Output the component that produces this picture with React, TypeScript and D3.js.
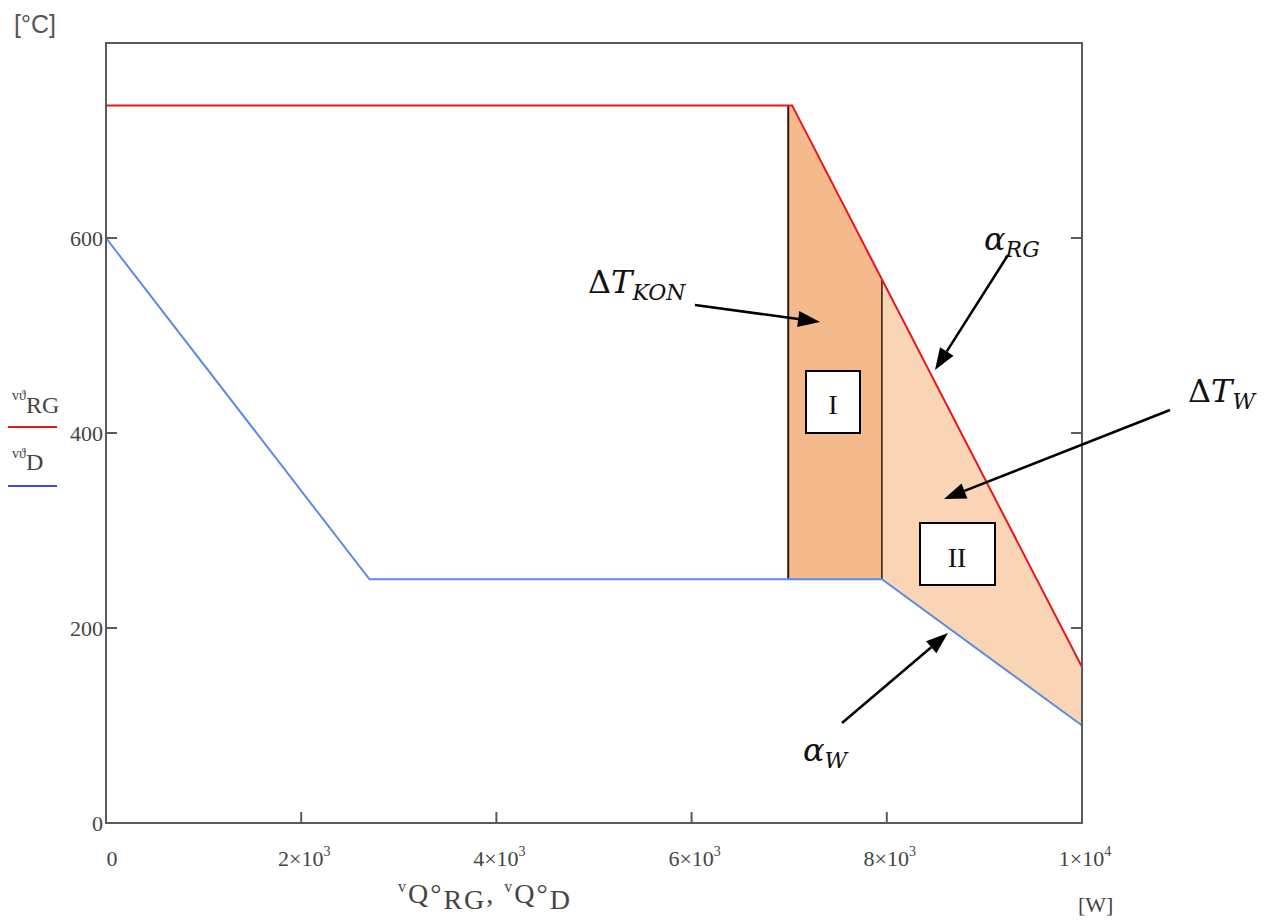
import React from "react";
import * as d3 from "d3";

// ---- data ----
const xTickValues = [0, 2000, 4000, 6000, 8000, 10000];
const xTickMantissa = ["0", "2×10", "4×10", "6×10", "8×10", "1×10"];
const xTickExponent = ["", "3", "3", "3", "3", "4"];
const yTickValues = [0, 200, 400, 600];
const yTickLabels = ["0", "200", "400", "600"];

const rgX = [0, 7030, 10000];
const rgY = [736, 736, 160];
const dX = [0, 2700, 7950, 10000];
const dY = [600, 250, 250, 100];

const region1 = [6990, 7950];
const region2 = [7950, 10000];

const W = 1270, H = 920;
const left = 106, right = 1082, top = 43, bottom = 823;

const x = d3.scaleLinear().domain([0, 10000]).range([left, right]);
const y = d3.scaleLinear().domain([0, 800]).range([bottom, top]);

function interp(xs: number[], ys: number[], v: number) {
  for (let i = 0; i < xs.length - 1; i++) {
    if (v >= xs[i] && v <= xs[i + 1]) {
      const t = (v - xs[i]) / (xs[i + 1] - xs[i]);
      return ys[i] + t * (ys[i + 1] - ys[i]);
    }
  }
  return ys[ys.length - 1];
}

function regionPoints(a: number, b: number): [number, number][] {
  const xsL = [a, ...dX.filter((v) => v > a && v < b), b];
  const lower: [number, number][] = xsL.map((v) => [v, interp(dX, dY, v)]);
  const xsU = [a, ...rgX.filter((v) => v > a && v < b), b].reverse();
  const upper: [number, number][] = xsU.map((v) => [v, interp(rgX, rgY, v)]);
  return [...lower, ...upper];
}

const line = d3
  .line<[number, number]>()
  .x((d) => x(d[0]))
  .y((d) => y(d[1]));

function Arrow({ x1, y1, x2, y2 }: { x1: number; y1: number; x2: number; y2: number }) {
  const ang = Math.atan2(y2 - y1, x2 - x1);
  const len = 22, hw = 8;
  const bx = x2 - len * Math.cos(ang), by = y2 - len * Math.sin(ang);
  const px = -Math.sin(ang) * hw, py = Math.cos(ang) * hw;
  return (
    <g>
      <line x1={x1} y1={y1} x2={bx} y2={by} stroke="#000" strokeWidth={2.5} />
      <polygon points={`${x2},${y2} ${bx + px},${by + py} ${bx - px},${by - py}`} fill="#000" />
    </g>
  );
}

const serif = "'Liberation Serif', 'Times New Roman', serif";
const mathFont = "'DejaVu Serif', 'Liberation Serif', serif";

export default function App() {
  const rgPts = rgX.map((v, i) => [v, rgY[i]] as [number, number]);
  const dPts = dX.map((v, i) => [v, dY[i]] as [number, number]);
  const r1 = regionPoints(region1[0], region1[1]);
  const r2 = regionPoints(region2[0], region2[1]);
  const tickLen = 11;
  return (
    <svg width={W} height={H} style={{ position: "absolute", left: 0, top: 0, background: "#fff" }}>
      {/* fills */}
      <path d={line(r2) + "Z"} fill="#F9D4B5" />
      <path d={line(r1) + "Z"} fill="#F5BA8C" />
      {/* vertical separators */}
      <line x1={x(region1[0])} x2={x(region1[0])} y1={y(interp(dX, dY, region1[0]))} y2={y(interp(rgX, rgY, region1[0]))} stroke="#2a1a10" strokeWidth={2} />
      <line x1={x(region2[0])} x2={x(region2[0])} y1={y(interp(dX, dY, region2[0]))} y2={y(interp(rgX, rgY, region2[0]))} stroke="#2a1a10" strokeWidth={1.5} />

      {/* series */}
      <path d={line(rgPts)!} fill="none" stroke="#E8171C" strokeWidth={2} />
      <path d={line(dPts)!} fill="none" stroke="#5B8BE6" strokeWidth={2} />

      {/* frame */}
      <rect x={left} y={top} width={right - left} height={bottom - top} fill="none" stroke="#5a5a5a" strokeWidth={2} />
      {xTickValues.map((v, i) => (
        <g key={"xt" + i}>
          {i > 0 && i < xTickValues.length - 1 && (
            <line x1={x(v)} x2={x(v)} y1={bottom} y2={bottom - tickLen} stroke="#5a5a5a" strokeWidth={2} />
          )}
          <text x={x(v) + (i === 0 ? 6 : 3)} y={866} textAnchor="middle" fontFamily={serif} fontSize={22} fill="#444">
            {xTickMantissa[i]}
            {xTickExponent[i] && (
              <tspan dy={-10} fontSize={14}>{xTickExponent[i]}</tspan>
            )}
          </text>
        </g>
      ))}
      {yTickValues.map((v, i) => (
        <g key={"yt" + i}>
          {i > 0 && (
            <>
              <line x1={left} x2={left + tickLen} y1={y(v)} y2={y(v)} stroke="#5a5a5a" strokeWidth={2} />
              <line x1={right} x2={right - tickLen} y1={y(v)} y2={y(v)} stroke="#5a5a5a" strokeWidth={2} />
            </>
          )}
          <text x={left - 3} y={y(v) + 8} textAnchor="end" fontFamily={serif} fontSize={22} fill="#444">
            {yTickLabels[i]}
          </text>
        </g>
      ))}

      {/* axis unit labels */}
      <text x={14} y={33} fontFamily="'Liberation Sans', Arial, sans-serif" fontSize={25} fill="#555">[°C]</text>
      <text x={1078} y={912} fontFamily={serif} fontSize={22} fill="#444">[W]</text>
      <text x={398} y={903} fontFamily={serif} fontSize={28} fill="#444" letterSpacing={2}>
        <tspan fontSize={16} dy={-11}>v</tspan>
        <tspan dy={11}>Q°</tspan>
        <tspan dy={6}>RG</tspan>
        <tspan dy={-6}>, </tspan>
        <tspan fontSize={16} dy={-11}>v</tspan>
        <tspan dy={11}>Q°</tspan>
        <tspan dy={6}>D</tspan>
      </text>

      {/* legend */}
      <text x={12} y={400} fontFamily={serif} fontSize={14} fill="#444">
        <tspan>vϑ</tspan>
        <tspan fontSize={24} dy={13}>RG</tspan>
      </text>
      <line x1={8} x2={57} y1={427} y2={427} stroke="#E8171C" strokeWidth={2} />
      <text x={12} y={458} fontFamily={serif} fontSize={14} fill="#444">
        <tspan>vϑ</tspan>
        <tspan fontSize={24} dy={12}>D</tspan>
      </text>
      <line x1={8} x2={57} y1={486} y2={486} stroke="#4048E0" strokeWidth={2} />

      {/* region boxes */}
      <rect x={806} y={371} width={54} height={62} fill="#fff" stroke="#000" strokeWidth={2} />
      <text x={833} y={414} textAnchor="middle" fontFamily={serif} fontSize={28} fill="#111">I</text>
      <rect x={920} y={523} width={75} height={62} fill="#fff" stroke="#000" strokeWidth={2} />
      <text x={957} y={567} textAnchor="middle" fontFamily={serif} fontSize={28} fill="#111">II</text>

      {/* annotations */}
      <text x={588} y={293} fontFamily={mathFont} fontSize={32} fill="#111">
        <tspan>Δ</tspan>
        <tspan fontStyle="italic">T</tspan>
        <tspan fontStyle="italic" fontSize={22} dy={7}>KON</tspan>
      </text>
      <Arrow x1={695} y1={305} x2={820} y2={322} />

      <text x={984} y={250} fontFamily={mathFont} fontSize={32} fill="#111">
        <tspan fontStyle="italic">α</tspan>
        <tspan fontStyle="italic" fontSize={22} dy={7}>RG</tspan>
      </text>
      <Arrow x1={1008} y1={255} x2={935} y2={370} />

      <text x={1188} y={402} fontFamily={mathFont} fontSize={32} fill="#111">
        <tspan>Δ</tspan>
        <tspan fontStyle="italic">T</tspan>
        <tspan fontStyle="italic" fontSize={22} dy={7}>W</tspan>
      </text>
      <Arrow x1={1170} y1={410} x2={944} y2={499} />

      <text x={803} y={761} fontFamily={mathFont} fontSize={32} fill="#111">
        <tspan fontStyle="italic">α</tspan>
        <tspan fontStyle="italic" fontSize={22} dy={7}>W</tspan>
      </text>
      <Arrow x1={842} y1={723} x2={948} y2={633} />
    </svg>
  );
}
